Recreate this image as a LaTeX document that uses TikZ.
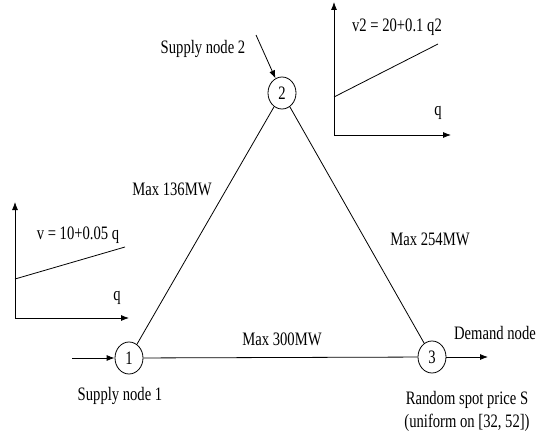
\documentclass[tikz,border=0pt]{standalone}
\usepackage{fontspec}
\setmainfont{Liberation Serif}[FakeStretch=0.77]
\usetikzlibrary{shapes.geometric,arrows.meta}
\begin{document}
\begin{tikzpicture}[x=1pt,y=-1pt,
  every node/.style={font=\fontsize{19}{21}\selectfont, inner sep=0pt},
  busnode/.style={ellipse, draw, line width=0.8pt, minimum width=28pt, minimum height=32pt},
  line/.style={line width=0.8pt},
  arr/.style={line width=0.8pt, -{Latex[length=8pt,width=6pt]}}]
\useasboundingbox (0,0) rectangle (537,433);
% nodes
\node[busnode] (n1) at (129,358) {1};
\node[busnode] (n2) at (282,93) {2};
\node[busnode] (n3) at (432,357) {3};
% connectors
\draw[line] (n1) -- (n2);
\draw[line] (n2) -- (n3);
\draw[line] (n1) -- (n3);
\coordinate (in1) at (72,358);
\coordinate (in2) at (256,35);
\coordinate (out3) at (488,357);
\draw[arr] (in1) -- (n1);
\draw[arr] (in2) -- (n2);
\draw[arr] (n3) -- (out3);
% labels
\node (l12) at (172,189) {Max 136MW};
\node (l23) at (430,239) {Max 254MW};
\node (l13) at (282,339) {Max 300MW};
\node (s2) at (203,49) {Supply node 2};
\node (s1) at (120,396) {Supply node 1};
\node (dn) at (495,333) {Demand node};
\node (rs) at (467,400) {Random spot price S};
\node (un) at (467,423) {(uniform on [32, 52])};
% left graph
\coordinate (lo) at (15,318);
\coordinate (ly) at (15,202);
\coordinate (lx) at (129,318);
\draw[arr] (lo) -- (ly);
\draw[arr] (lo) -- (lx);
\coordinate (la) at (15,279);
\coordinate (lb) at (125,247);
\draw[line] (la) -- (lb);
\node (lv) at (78,235) {v = 10+0.05 q};
\node (lq) at (117,298) {q};
% right graph
\coordinate (ro) at (334,135);
\coordinate (ry) at (334,2);
\coordinate (rx) at (451,135);
\draw[arr] (ro) -- (ry);
\draw[arr] (ro) -- (rx);
\coordinate (ra) at (334,97);
\coordinate (rb) at (438,44);
\draw[line] (ra) -- (rb);
\node (rv) at (397,27) {v2 = 20+0.1 q2};
\node (rq) at (438,113) {q};
\end{tikzpicture}
\end{document}
